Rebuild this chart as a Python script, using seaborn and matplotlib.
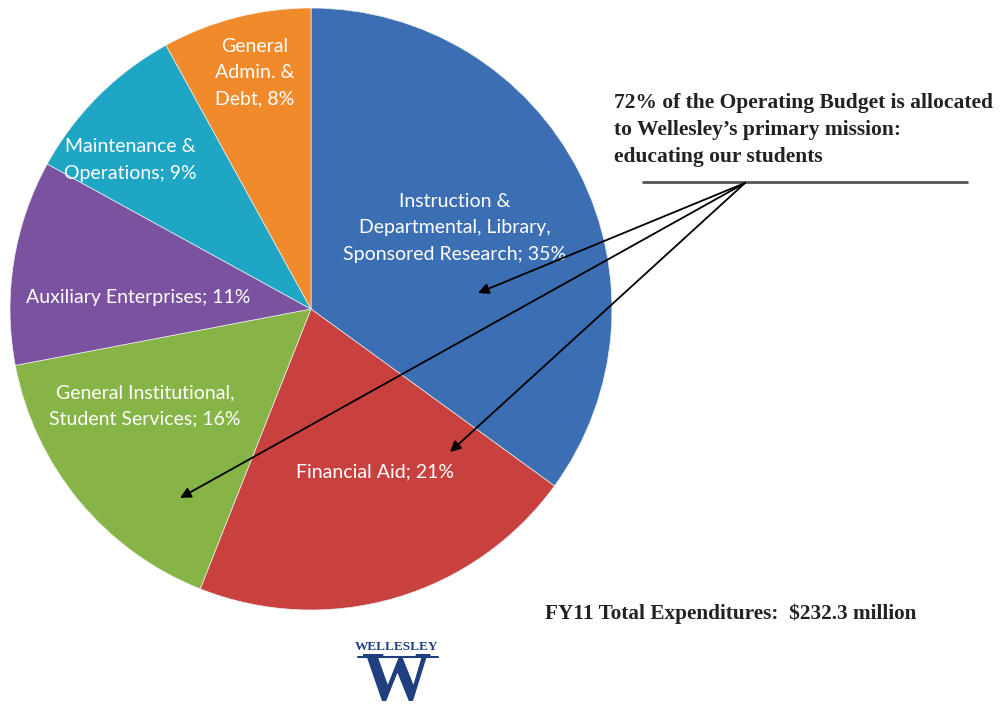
import matplotlib
matplotlib.use("Agg")
import matplotlib.pyplot as plt
import seaborn as sns

sns.set_style("white")
plt.rcParams['font.family'] = ['Lato', 'DejaVu Sans']

# spending shares, clockwise from 12 o'clock
labels = ["Instruction &\nDepartmental, Library,\nSponsored Research; 35%",
          "Financial Aid; 21%",
          "General Institutional,\nStudent Services; 16%",
          "Auxiliary Enterprises; 11%",
          "Maintenance &\nOperations; 9%",
          "General\nAdmin. &\nDebt, 8%"]
shares = [35, 21, 16, 11, 9, 8]
colors = ["#3B6EB3", "#C8413E", "#86B446", "#7B52A0", "#1FA6C4", "#F08A2B"]

# where each label sits (pixels from top-left)
label_pos = [(455, 228), (375, 472), (145, 406), (138, 298), (130, 160), (255, 73)]

W, H = 1003, 713
fig = plt.figure(figsize=(W / 100, H / 100), dpi=100)
ax = fig.add_axes([0, 0, 1, 1])

cx, cy, r = 311, H - 309, 301
ax.pie(shares, colors=colors, startangle=90, counterclock=False,
       center=(cx, cy), radius=r, frame=True,
       wedgeprops=dict(edgecolor="#eeeeee", linewidth=0.5))
ax.set_xlim(0, W)
ax.set_ylim(0, H)
ax.set_aspect("equal")
ax.axis("off")

for lab, (x, y) in zip(labels, label_pos):
    ax.text(x, H - y, lab, color="white", fontsize=14, ha="center", va="center",
            linespacing=1.65)

serif = ["Liberation Serif", "DejaVu Serif"]
ax.text(614, H - 130, "72% of the Operating Budget is allocated\nto Wellesley\u2019s primary mission:\neducating our students",
        family=serif, fontweight="bold", fontsize=15.5, color="#222222",
        ha="left", va="center", linespacing=1.45)
ax.plot([643, 967], [H - 182, H - 182], color="#555555", lw=2)

# arrows to the mission-related slices
src = (745, 183)
targets = [(478, 293), (450, 452), (180, 498)]
for tx, ty in targets:
    ax.annotate("", xy=(tx, H - ty), xytext=(src[0], H - src[1]),
                arrowprops=dict(arrowstyle="-|>", color="black", lw=1.3,
                                mutation_scale=16, shrinkA=0, shrinkB=0))

ax.text(731, H - 614, "FY11 Total Expenditures:  $232.3 million", family=serif,
        fontweight="bold", fontsize=15.3, color="#222222", ha="center", va="center")

# college logo
navy = "#1F3F7F"
ax.text(397, H - 647, "WELLESLEY", family=serif, fontweight="bold", fontsize=9.5,
        color=navy, ha="center", va="center")
ax.plot([358, 438], [H - 657, H - 657], color=navy, lw=1.5)
ax.text(397, H - 683, "W", family=serif, fontweight="bold", fontsize=50,
        color=navy, ha="center", va="center")

fig.savefig("out.png", dpi=100, facecolor="white")
